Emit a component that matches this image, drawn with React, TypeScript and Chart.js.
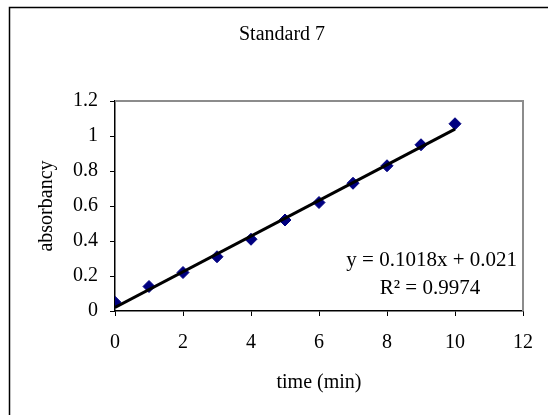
import React, { useEffect, useRef } from "react";
import { Chart, registerables } from "chart.js";

Chart.register(...registerables);

const chartTitle = "Standard 7";
const xAxisTitle = "time (min)";
const yAxisTitle = "absorbancy";
const timeMin = [0, 1, 2, 3, 4, 5, 6, 7, 8, 9, 10];
const absorbance = [0.05, 0.14, 0.22, 0.31, 0.41, 0.52, 0.62, 0.73, 0.83, 0.95, 1.07];
const trendX = [0, 10];
const trendY = [0.021, 1.039];
const equationText = "y = 0.1018x + 0.021";
const rSquaredText = "R² = 0.9974";

const FONT = "'Liberation Serif', 'Times New Roman', serif";
const FS = 20;

const decorPlugin = {
  id: "decor",
  beforeDraw(chart: any) {
    const ctx = chart.ctx;
    ctx.save();
    ctx.strokeStyle = "#000";
    ctx.lineWidth = 1.5;
    ctx.beginPath();
    ctx.moveTo(9.5, 415);
    ctx.lineTo(9.5, 7.5);
    ctx.lineTo(548, 7.5);
    ctx.stroke();
    ctx.restore();
  },
  beforeDatasetsDraw(chart: any) {
    const { ctx, chartArea } = chart;
    ctx.save();
    ctx.strokeStyle = "#8c8c8c";
    ctx.lineWidth = 2;
    ctx.beginPath();
    ctx.moveTo(chartArea.left, chartArea.top);
    ctx.lineTo(chartArea.right, chartArea.top);
    ctx.lineTo(chartArea.right, chartArea.bottom);
    ctx.stroke();
    ctx.restore();
  },
  afterDraw(chart: any) {
    const ctx = chart.ctx;
    ctx.save();
    ctx.fillStyle = "#000";
    ctx.font = `${FS}px ${FONT}`;
    ctx.textBaseline = "middle";
    ctx.textAlign = "center";
    ctx.fillText(chartTitle, 282, 35);
    ctx.font = `21px ${FONT}`;
    ctx.textAlign = "right";
    ctx.fillText(equationText, 517, 260);
    ctx.textAlign = "center";
    ctx.fillText(rSquaredText, 430, 288);
    ctx.restore();
  },
};

export default function App() {
  const canvasRef = useRef<HTMLCanvasElement | null>(null);

  useEffect(() => {
    if (!canvasRef.current) return;
    const chart = new Chart(canvasRef.current, {
      type: "scatter",
      data: {
        datasets: [
          {
            type: "line",
            label: "trend",
            data: trendX.map((x, i) => ({ x, y: trendY[i] })),
            borderColor: "#000",
            borderWidth: 3,
            pointRadius: 0,
            fill: false,
            order: 0,
          } as any,
          {
            label: "absorbancy",
            data: timeMin.map((x, i) => ({ x, y: absorbance[i] })),
            pointStyle: "rectRot",
            pointRadius: 6,
            pointBorderWidth: 1,
            backgroundColor: "#000080",
            borderColor: "#000080",
            order: 1,
          },
        ],
      },
      options: {
        responsive: false,
        animation: false,
        devicePixelRatio: 1,
        layout: { padding: { left: 0, top: 101, right: 22, bottom: 0 } },
        plugins: {
          legend: { display: false },
          tooltip: { enabled: false },
          title: { display: false },
        },
        scales: {
          x: {
            type: "linear",
            min: 0,
            max: 12,
            afterFit: (s: any) => {
              s.height = 104;
            },
            ticks: {
              stepSize: 2,
              color: "#000",
              padding: 15,
              font: { family: FONT, size: FS },
              maxRotation: 0,
            },
            grid: {
              drawOnChartArea: false,
              drawTicks: true,
              tickLength: 5,
              tickColor: "#000",
              tickWidth: 1,
            },
            border: { display: true, color: "#000", width: 1.5 },
            title: {
              display: true,
              text: xAxisTitle,
              color: "#000",
              font: { family: FONT, size: FS },
              padding: { top: 0, bottom: 20 },
            },
          },
          y: {
            type: "linear",
            min: 0,
            max: 1.2,
            afterFit: (s: any) => {
              s.width = 115;
            },
            ticks: {
              stepSize: 0.2,
              color: "#000",
              padding: 12,
              font: { family: FONT, size: FS },
              callback: (v: any) => String(Number(Number(v).toFixed(1))),
            },
            grid: {
              drawOnChartArea: false,
              drawTicks: true,
              tickLength: 5,
              tickColor: "#000",
              tickWidth: 1,
            },
            border: { display: true, color: "#000", width: 1.5 },
            title: {
              display: true,
              text: yAxisTitle,
              color: "#000",
              font: { family: FONT, size: FS },
              padding: { top: 35, bottom: 0 },
            },
          },
        },
      },
      plugins: [decorPlugin],
    });
    return () => chart.destroy();
  }, []);

  return (
    <div style={{ position: "absolute", left: 0, top: 0, width: 548, height: 415, background: "#fff" }}>
      <canvas ref={canvasRef} width={548} height={415} />
    </div>
  );
}
